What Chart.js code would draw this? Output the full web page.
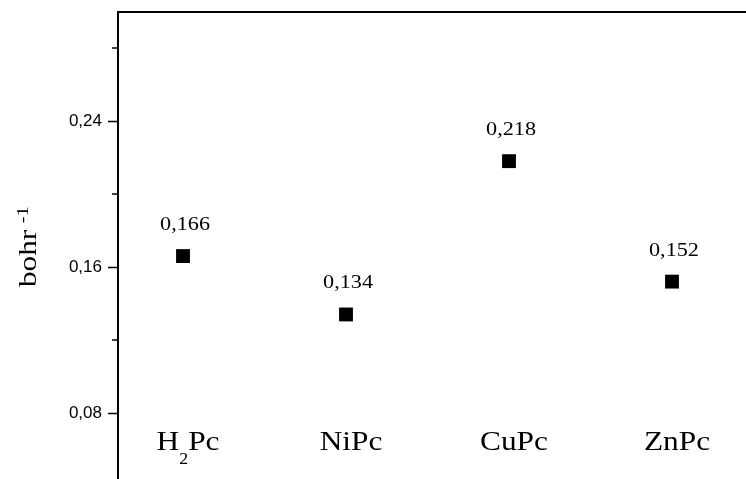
<!DOCTYPE html>
<html>
<head>
<meta charset="utf-8">
<script src="https://cdn.jsdelivr.net/npm/chart.js@4"></script>
<style>
  html, body { margin: 0; padding: 0; background: #fff; overflow: hidden; }
  canvas { display: block; }
</style>
</head>
<body>
<canvas id="chart" width="746" height="479"></canvas>
<script>
// data
const categories  = ['H2Pc', 'NiPc', 'CuPc', 'ZnPc'];
const positions   = [1, 2, 3, 4];
const values      = [0.166, 0.134, 0.218, 0.152];
const valueLabels = ['0,166', '0,134', '0,218', '0,152'];
const yTicks      = [0.08, 0.16, 0.24];
const yTickLabels = ['0,08', '0,16', '0,24'];
const yMinorTicks = [0.12, 0.20, 0.28];

const SERIF = '"Liberation Serif", "Times New Roman", Times, serif';
const catLabelValue = 0.0597;   // baseline of category names, in axis units

// draw text stretched along its own direction
function wideText(ctx, txt, x, y, font, sx, align) {
  ctx.save();
  ctx.font = font;
  const w = ctx.measureText(txt).width * sx;
  let x0 = x;
  if (align === 'center') x0 = x - w / 2;
  ctx.translate(x0, y);
  ctx.scale(sx, 1);
  ctx.textAlign = 'left';
  ctx.textBaseline = 'alphabetic';
  ctx.fillText(txt, 0, 0);
  ctx.restore();
  return w;
}

// chemical name with subscript digits, centred at x
function drawChem(ctx, name, x, y) {
  const sx = 1.12;
  const big = '28px ' + SERIF, small = '16px ' + SERIF;
  const runs = name.match(/\d+|\D+/g);
  let total = 0;
  runs.forEach(r => {
    ctx.font = /\d/.test(r) ? small : big;
    total += ctx.measureText(r).width * sx;
  });
  let cx = x - total / 2;
  runs.forEach(r => {
    const sub = /\d/.test(r);
    cx += wideText(ctx, r, cx, sub ? y + 14 : y, sub ? small : big, sx, 'left');
  });
}

const annotate = {
  id: 'annotate',
  afterDraw(chart) {
    const { ctx, chartArea } = chart;
    const xs = chart.scales.x, ys = chart.scales.y;
    ctx.save();
    ctx.fillStyle = '#000';
    ctx.strokeStyle = '#000';

    // minor ticks
    ctx.lineWidth = 1.5;
    yMinorTicks.forEach(v => {
      const y = ys.getPixelForValue(v);
      ctx.beginPath();
      ctx.moveTo(chartArea.left - 6, y);
      ctx.lineTo(chartArea.left, y);
      ctx.stroke();
    });

    // value labels above the points
    chart.getDatasetMeta(0).data.forEach((pt, i) => {
      wideText(ctx, valueLabels[i], pt.x + 2, pt.y - 26, '18.5px ' + SERIF, 1.2, 'center');
    });

    // category names inside the plot
    categories.forEach((c, i) => {
      drawChem(ctx, c, xs.getPixelForValue(positions[i]) + 5, ys.getPixelForValue(catLabelValue));
    });

    // y title: bohr^-1
    ctx.save();
    ctx.translate(36, 287);
    ctx.rotate(-Math.PI / 2);
    ctx.scale(1.2, 1);
    ctx.textAlign = 'left';
    ctx.textBaseline = 'alphabetic';
    ctx.font = '26px ' + SERIF;
    ctx.fillText('bohr', 0, 0);
    const w = ctx.measureText('bohr').width;
    ctx.font = '17px ' + SERIF;
    ctx.fillText('-1', w + 5.5, -8);
    ctx.restore();

    ctx.restore();
  }
};

const xMin = 0.6012, xMax = 4.454;

new Chart(document.getElementById('chart'), {
  type: 'scatter',
  data: {
    datasets: [{
      data: positions.map((p, i) => ({ x: p, y: values[i] })),
      pointStyle: 'rect',
      pointRadius: 9.8,
      pointHoverRadius: 9.8,
      backgroundColor: '#000',
      borderWidth: 0,
      xAxisID: 'x',
      yAxisID: 'y'
    }]
  },
  options: {
    responsive: false,
    devicePixelRatio: 1,
    animation: false,
    events: [],
    layout: { padding: 0, autoPadding: false },
    plugins: { legend: { display: false }, tooltip: { enabled: false } },
    scales: {
      x: { type: 'linear', min: xMin, max: xMax, display: false },
      x2: {
        type: 'linear', position: 'top', min: xMin, max: xMax,
        ticks: { display: false },
        grid: { display: false },
        border: { display: true, color: '#000', width: 2 },
        afterFit: s => { s.height = 12; s.paddingLeft = 0; s.paddingRight = 0; }
      },
      y: {
        type: 'linear', position: 'left', min: 0.04384, max: 0.29973,
        afterBuildTicks: s => { s.ticks = yTicks.map(v => ({ value: v })); },
        ticks: {
          color: '#000',
          padding: 6,
          font: { family: '"Liberation Sans", Arial, sans-serif', size: 17 },
          callback: (v, i) => yTickLabels[i]
        },
        grid: { display: true, drawOnChartArea: false, tickLength: 10, tickWidth: 1.5, tickColor: '#000' },
        border: { display: true, color: '#000', width: 2 },
        afterFit: s => { s.width = 118; s.paddingTop = 0; s.paddingBottom = 0; }
      }
    }
  },
  plugins: [annotate]
});
</script>
</body>
</html>
